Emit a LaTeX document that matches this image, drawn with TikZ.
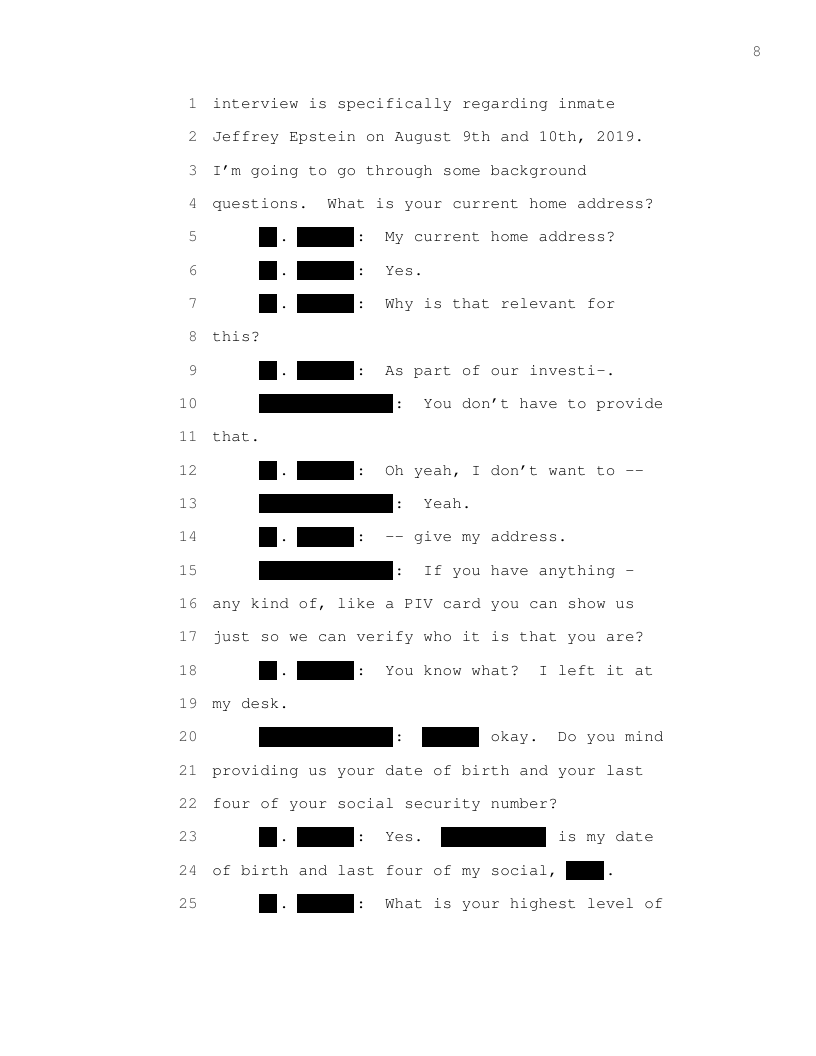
\documentclass[tikz,border=0pt]{standalone}
\usepackage[T1]{fontenc}
\usepackage{courier}
\newcommand\cour{\fontencoding{T1}\fontfamily{pcr}\fontseries{m}\fontshape{n}\fontsize{12pt}{14pt}\selectfont}
\frenchspacing
\newcommand\ypos[1]{108.4+(#1-1)*33.333}
\newcommand\tl[4]{\node[txt] (#1) at ({212+#3*9.6},{\ypos{#2}}) {#4};}
\newcommand\rbox[3]{\fill[redact] ({212+#2*9.6-1.2},{\ypos{#1}-14.4}) rectangle ({212+(#2+#3)*9.6-1.8},{\ypos{#1}+5});}
\newcommand\lnum[1]{\node[num] (n#1) at (198,{\ypos{#1}}) {#1};}
\newcommand\shortsp[1]{\rbox{#1}{5}{2}\tl{d#1}{#1}{7}{.}\rbox{#1}{9}{6}\tl{c#1}{#1}{15}{:}}
\newcommand\longsp[1]{\rbox{#1}{5}{14}\tl{c#1}{#1}{19}{:}}
\begin{document}
\begin{tikzpicture}[x=0.75pt,y=-0.75pt,
  txt/.style={inner sep=0pt, anchor=base west, font=\cour},
  num/.style={inner sep=0pt, anchor=base east, text=black!78, font=\cour},
  redact/.style={fill=black}]
\useasboundingbox[fill=white] (0,0) rectangle (816,1056);
% page number
\node[num, anchor=base] (page) at (757,57) {8};
% line numbers
\foreach \i in {1,...,25} {\lnum{\i}}
% lines
\tl{t1}{1}{0}{interview is specifically regarding inmate}
\tl{t2}{2}{0}{Jeffrey Epstein on August 9th and 10th, 2019.}
\tl{t3}{3}{0}{I'm going to go through some background}
\tl{t4}{4}{0}{questions.\ \ What is your current home address?}
\shortsp{5}\tl{t5}{5}{18}{My current home address?}
\shortsp{6}\tl{t6}{6}{18}{Yes.}
\shortsp{7}\tl{t7}{7}{18}{Why is that relevant for}
\tl{t8}{8}{0}{this?}
\shortsp{9}\tl{t9}{9}{18}{As part of our investi-.}
\longsp{10}\tl{t10}{10}{22}{You don't have to provide}
\tl{t11}{11}{0}{that.}
\shortsp{12}\tl{t12}{12}{18}{Oh yeah, I don't want to -{}-}
\longsp{13}\tl{t13}{13}{22}{Yeah.}
\shortsp{14}\tl{t14}{14}{18}{-{}- give my address.}
\longsp{15}\tl{t15}{15}{22}{If you have anything -}
\tl{t16}{16}{0}{any kind of, like a PIV card you can show us}
\tl{t17}{17}{0}{just so we can verify who it is that you are?}
\shortsp{18}\tl{t18}{18}{18}{You know what?\ \ I left it at}
\tl{t19}{19}{0}{my desk.}
\longsp{20}\rbox{20}{22}{6}\tl{t20}{20}{29}{okay.\ \ Do you mind}
\tl{t21}{21}{0}{providing us your date of birth and your last}
\tl{t22}{22}{0}{four of your social security number?}
\shortsp{23}\tl{t23}{23}{18}{Yes.}\rbox{23}{24}{11}\tl{t23b}{23}{36}{is my date}
\tl{t24}{24}{0}{of birth and last four of my social,}\rbox{24}{37}{4}\tl{t24b}{24}{41}{.}
\shortsp{25}\tl{t25}{25}{18}{What is your highest level of}
\end{tikzpicture}
\end{document}
